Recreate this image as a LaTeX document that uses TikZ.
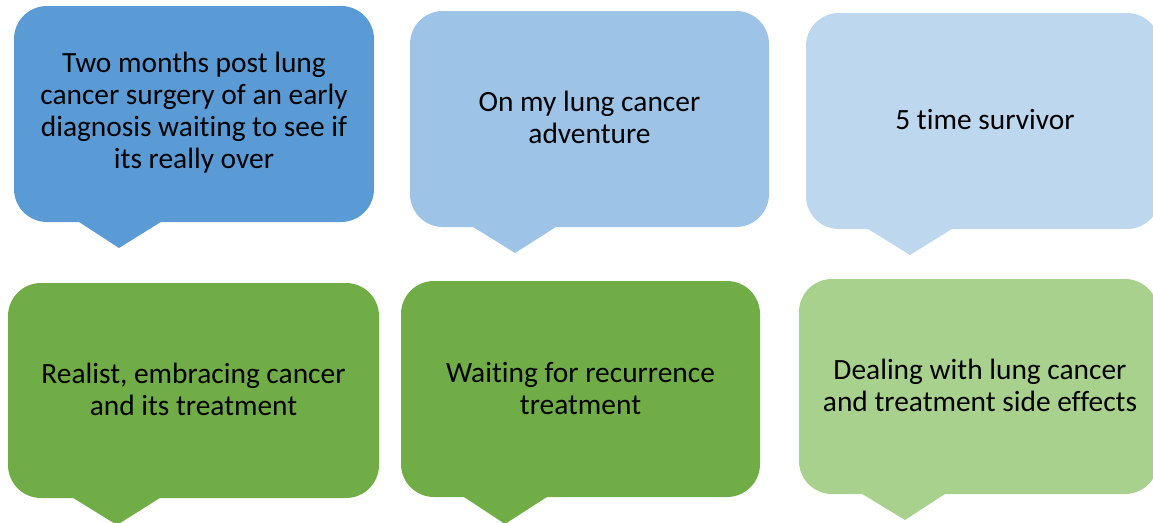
\documentclass[tikz,border=0pt]{standalone}
\usepackage{fontspec}
\setmainfont{Carlito}[Ligatures=NoCommon]
\definecolor{blueA}{HTML}{5B9BD5}
\definecolor{blueB}{HTML}{9DC3E6}
\definecolor{blueC}{HTML}{BDD7EE}
\definecolor{greenA}{HTML}{70AD47}
\definecolor{greenB}{HTML}{A9D18E}
\begin{document}
\begin{tikzpicture}[x=1pt,y=-1pt,
  bubble/.style={rounded corners=33pt, inner sep=0pt},
  label/.style={inner sep=0pt, align=center, font=\fontsize{29.4}{32}\selectfont, text=black},
  ]
\useasboundingbox (0,0) rectangle (1153,522);
% top row
\fill[blueA] (76,220) -- (119,248) -- (164,220) -- cycle;
\node[bubble, fill=blueA, minimum width=360pt, minimum height=216pt] (b1) at (194,114) {};
\node[label] (t1) at (194,113)
  {Two months post lung\\cancer surgery of an early\\diagnosis waiting to see if\\its really over};
\fill[blueB] (470,225) -- (515,253) -- (559,225) -- cycle;
\node[bubble, fill=blueB, minimum width=359pt, minimum height=216pt] (b2) at (589.5,119) {};
\node[label] (t2) at (589.5,117) {On my lung cancer\\adventure};
\fill[blueC] (865,227) -- (910,255) -- (955,227) -- cycle;
\node[bubble, fill=blueC, minimum width=354pt, minimum height=216pt] (b3) at (983,121) {};
\node[label] (t3) at (985,119) {5 time survivor};
% bottom row
\fill[greenA] (70,496) -- (117,525) -- (163,496) -- cycle;
\node[bubble, fill=greenA, minimum width=371pt, minimum height=215pt] (b4) at (193.5,390.5) {};
\node[label] (t4) at (193.5,389.5) {Realist, embracing cancer\\and its treatment};
\fill[greenA] (461,495) -- (505,524) -- (550,495) -- cycle;
\node[bubble, fill=greenA, minimum width=359pt, minimum height=216pt] (b5) at (580.5,389) {};
\node[label] (t5) at (580.5,388) {Waiting for recurrence\\treatment};
\fill[greenB] (859,492) -- (905,520) -- (948,492) -- cycle;
\node[bubble, fill=greenB, minimum width=359pt, minimum height=215pt] (b6) at (978.5,386.5) {};
\node[label] (t6) at (980,385)
  {Dealing with lung cancer\\and treatment side effects};
\end{tikzpicture}
\end{document}
